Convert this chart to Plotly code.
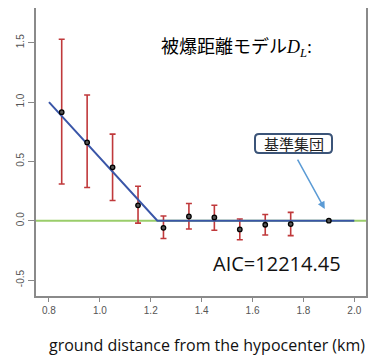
import plotly.graph_objects as go

# data
dist = [0.85, 0.95, 1.05, 1.15, 1.25, 1.35, 1.45, 1.55, 1.65, 1.75]
est = [0.915, 0.66, 0.45, 0.13, -0.06, 0.036, 0.028, -0.073, -0.034, -0.028]
upper = [1.53, 1.06, 0.73, 0.29, 0.04, 0.145, 0.13, 0.014, 0.053, 0.07]
lower = [0.31, 0.28, 0.17, -0.02, -0.15, -0.07, -0.08, -0.16, -0.12, -0.126]
ref_x = [1.9]
ref_y = [0.0]
model_x = [0.8, 1.226, 2.0]
model_y = [1.0, 0.0, 0.0]
xticks = [0.8, 1.0, 1.2, 1.4, 1.6, 1.8, 2.0]
yticks = [-0.5, 0.0, 0.5, 1.0, 1.5]

err_plus = [u - e for u, e in zip(upper, est)]
err_minus = [e - l for e, l in zip(est, lower)]

OFF = 8  # page body margin
W, H = 379 - OFF, 356 - OFF
L, R, T, B = 36 - OFF, 366 - OFF, 0, 296 - OFF
PW, PH = R - L, B - T

def px2paper(px, py):
    # px, py in screen pixels of the reference
    return (px - OFF - L) / PW, (B - (py - OFF)) / PH

fig = go.Figure()

# green reference line y=0
fig.add_shape(type="line", xref="paper", x0=0, x1=1, yref="y", y0=0, y1=0,
              line=dict(color="#9ACD6A", width=2), layer="below")

# error bars
fig.add_trace(go.Scatter(
    x=dist, y=est, mode="markers",
    marker=dict(size=1, color="rgba(0,0,0,0)"),
    error_y=dict(type="data", symmetric=False, array=err_plus, arrayminus=err_minus,
                 color="#C0393B", thickness=1.6, width=3),
    showlegend=False, hoverinfo="skip"))

# model line
fig.add_trace(go.Scatter(x=model_x, y=model_y, mode="lines",
                         line=dict(color="#3A56A8", width=2), showlegend=False))

# points
fig.add_trace(go.Scatter(
    x=dist + ref_x, y=est + ref_y, mode="markers",
    marker=dict(symbol="circle", size=4.5, color="#555555", line=dict(color="#000000", width=1.3)),
    showlegend=False))

# rounded box for 基準集団 (paper coords)
x0, y0 = px2paper(255, 153)
x1, y1 = px2paper(332, 134)
r = 4 / PW
ry = 4 / PH
path = (f"M {x0+r},{y0} L {x1-r},{y0} Q {x1},{y0} {x1},{y0+ry} L {x1},{y1-ry} "
        f"Q {x1},{y1} {x1-r},{y1} L {x0+r},{y1} Q {x0},{y1} {x0},{y1-ry} "
        f"L {x0},{y0+ry} Q {x0},{y0} {x0+r},{y0} Z")
fig.add_shape(type="path", xref="paper", yref="paper", path=path,
              line=dict(color="#3B5478", width=2), fillcolor="white")

fig.add_annotation(xref="paper", yref="paper", x=(x0 + x1) / 2, y=(y0 + y1) / 2,
                   text="基準集団", showarrow=False, xanchor="center", yanchor="middle",
                   font=dict(family="Noto Sans CJK JP", size=15, color="#222222"))

# arrow
fig.add_annotation(x=1.884, y=0.098, xref="x", yref="y", ax=-28, ay=-51,
                   text="", showarrow=True, arrowhead=2, arrowsize=1, arrowwidth=1.5,
                   arrowcolor="#5B9BD5")

# title text
tx, ty = px2paper(159, 46)
fig.add_annotation(xref="paper", yref="paper", x=tx, y=ty,
                   xanchor="left", yanchor="middle", showarrow=False,
                   text="被爆距離モデル<span style='font-family:Liberation Serif'><i>D<sub>L</sub></i>:</span>",
                   font=dict(family="Noto Sans CJK JP", size=18, color="#000000"))

# AIC text
ax_, ay_ = px2paper(277, 263)
fig.add_annotation(xref="paper", yref="paper", x=ax_, y=ay_,
                   xanchor="center", yanchor="middle", showarrow=False,
                   text="AIC=12214.45",
                   font=dict(family="Open Sans", size=20, color="#111111"))

# x axis title
gx, gy = px2paper(207, 345)
fig.add_annotation(xref="paper", yref="paper", x=gx, y=gy,
                   xanchor="center", yanchor="middle", showarrow=False,
                   text="ground distance from the hypocenter (km)",
                   font=dict(family="Open Sans", size=16, color="#111111"))

fig.update_layout(
    width=W, height=H,
    margin=dict(l=L, r=W - R, t=T, b=H - B, autoexpand=False),
    paper_bgcolor="white", plot_bgcolor="white",
    font=dict(family="Liberation Sans", size=10, color="#555555"),
    xaxis=dict(range=[0.749, 2.046], tickvals=xticks, ticktext=[f"{v:.1f}" for v in xticks],
               ticks="outside", ticklen=4, tickcolor="#888888", tickwidth=1,
               showgrid=False, zeroline=False, showline=True, linecolor="#8a8a8a",
               linewidth=1.5, mirror=True, automargin=False),
    yaxis=dict(range=[-0.643 + 1 / 118.65, 1.793], tickvals=yticks,
               ticktext=[f"{v:.1f}" for v in yticks],
               ticks="outside", ticklen=6, tickcolor="#888888", tickwidth=1, tickangle=-90,
               showgrid=False, zeroline=False, showline=True, linecolor="#8a8a8a",
               linewidth=1.5, mirror=True, automargin=False),
)

fig.write_html("out.html")
